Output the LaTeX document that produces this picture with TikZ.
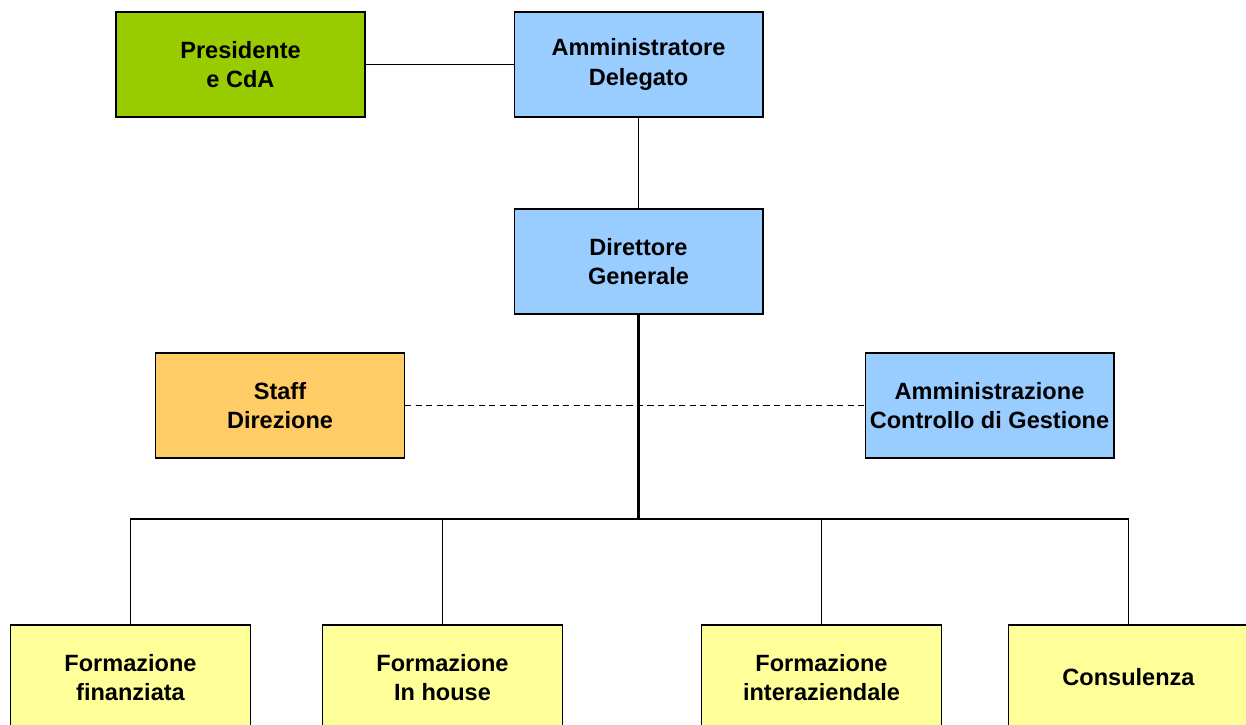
\documentclass[tikz,border=0pt]{standalone}
\usepackage{fontspec}
\setmainfont{Liberation Sans}
\usepackage{tikz}
\usetikzlibrary{positioning}

\definecolor{verde}{HTML}{99CC00}
\definecolor{azzurro}{HTML}{99CCFF}
\definecolor{arancio}{HTML}{FFCC66}
\definecolor{giallo}{HTML}{FFFF99}

\begin{document}
\begin{tikzpicture}[x=0.02cm, y=-0.02cm,
    box/.style={draw, line width=0.6pt, minimum width=4.98cm, minimum height=2.1cm,
        inner xsep=1pt, align=center, font=\fontsize{13.4}{16.6}\selectfont\bfseries},
    unit/.style={box, fill=giallo, minimum width=4.8cm},
    link/.style={line width=0.6pt}]

\useasboundingbox (0,0) rectangle (1246,724);

\node[box, fill=verde] (pres) at (240.5,64.5) {Presidente\\e CdA};
\node[box, fill=azzurro] (ad) at (638.5,64.5) {Amministratore\\Delegato};
\node[box, fill=azzurro] (dg) at (638.5,261.5) {Direttore\\Generale};
\node[box, fill=arancio] (staff) at (280,405.5) {Staff\\Direzione};
\node[box, fill=azzurro] (amm) at (989.5,405.5) {Amministrazione\\Controllo di Gestione};

\node[unit] (fin) at (130.5,677.5) {Formazione\\finanziata};
\node[unit] (inh) at (442.5,677.5) {Formazione\\In house};
\node[unit] (int) at (821.5,677.5) {Formazione\\interaziendale};
\node[unit] (cons) at (1128.5,677.5) {Consulenza};

\coordinate (bus) at (638.5,519);

\draw[link] (pres) -- (ad);
\draw[link] (ad) -- (dg);
\draw[line width=1.2pt] (dg) -- (bus);
\draw[link, dash pattern=on 3.5pt off 2.5pt] (staff) -- (amm);

\foreach \n in {fin, inh, int, cons} {
    \draw[link] (\n.north) |- (bus);
}

\end{tikzpicture}
\end{document}
